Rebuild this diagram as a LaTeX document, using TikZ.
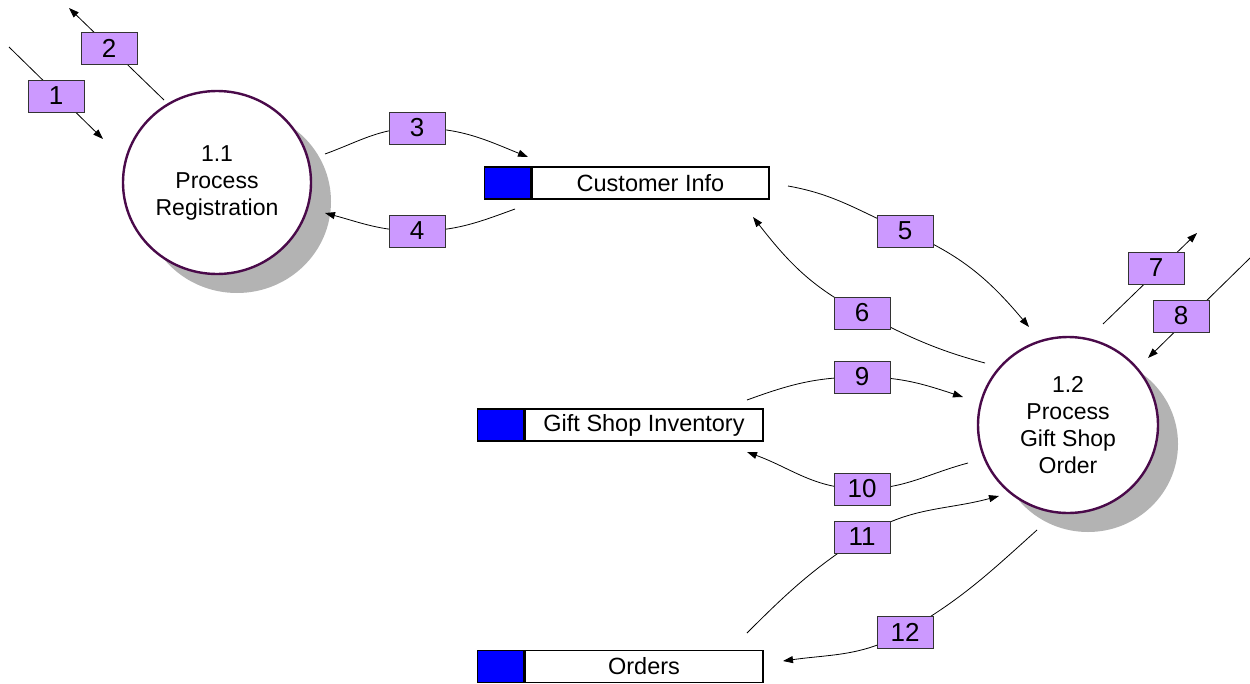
\documentclass[tikz,border=0pt]{standalone}
\usepackage{fontspec}
\setmainfont{Liberation Sans}
\usetikzlibrary{shapes.geometric,arrows.meta,shadows}

\definecolor{labelpurple}{HTML}{CC99FF}
\definecolor{storeblue}{HTML}{0000FF}
\definecolor{procborder}{HTML}{4A0A4A}
\definecolor{shadowgray}{HTML}{B3B3B3}
\definecolor{labelborder}{HTML}{333333}

\tikzset{
  process/.style={ellipse, draw=procborder, line width=2.4pt, fill=white,
    inner sep=0pt, align=center,
    font=\fontsize{23}{27}\selectfont,
    drop shadow={shadow xshift=20pt, shadow yshift=-19pt, fill=shadowgray, opacity=1}},
  storetext/.style={rectangle, draw=black, line width=1.4pt, fill=white,
    minimum height=32pt, inner sep=0pt, font=\fontsize{23.5}{27}\selectfont},
  storetag/.style={rectangle, draw=black, line width=1.4pt, fill=storeblue,
    minimum width=46pt, minimum height=32pt, inner sep=0pt},
  flowlabel/.style={rectangle, draw=labelborder, line width=0.9pt, fill=labelpurple,
    minimum width=56pt, minimum height=32pt, inner sep=0pt,
    font=\fontsize{26}{30}\selectfont},
  flow/.style={draw=black, line width=0.8pt},
  flowarrow/.style={flow, -{Triangle[length=10pt,width=7pt]}}
}

\begin{document}
\begin{tikzpicture}[x=1pt,y=1pt]
\useasboundingbox (0,0) rectangle (1250,-683);

% processes
\node[process, minimum width=188pt, minimum height=183pt] (reg) at (217,-182.5)
  {1.1\\Process\\Registration};
\node[process, minimum width=180pt, minimum height=176pt] (gso) at (1068,-425)
  {1.2\\Process\\Gift Shop\\Order};

% data stores
\node[storetext, minimum width=237pt] (ci) at (650.5,-183) {Customer Info};
\node[storetag, anchor=east] (citag) at (ci.west) {};
\node[storetext, minimum width=238pt] (gsi) at (644,-425) {Gift Shop Inventory};
\node[storetag, anchor=east] (gsitag) at (gsi.west) {};
\node[storetext, minimum width=238pt] (ord) at (644,-666.5) {Orders};
\node[storetag, anchor=east] (ordtag) at (ord.west) {};

% connector end points
\coordinate (s1) at (9,-47);      \coordinate (p1) at (56,-96);    \coordinate (e1) at (103,-139);
\coordinate (s2) at (164,-100);   \coordinate (p2) at (109,-48);   \coordinate (e2) at (69,-8);
\coordinate (s3) at (325,-154);   \coordinate (p3) at (417,-128);  \coordinate (e3) at (528,-157);
\coordinate (s4) at (515,-209);   \coordinate (p4) at (417,-231);  \coordinate (e4) at (325,-213);
\coordinate (s5) at (788,-186);   \coordinate (p5) at (905,-231);  \coordinate (e5) at (1029,-327);
\coordinate (s6) at (985,-363);   \coordinate (p6) at (862,-313);  \coordinate (e6) at (753,-217);
\coordinate (s7) at (1103,-324);  \coordinate (p7) at (1156,-268); \coordinate (e7) at (1197,-233);
\coordinate (s8) at (1250,-258);  \coordinate (p8) at (1181,-316); \coordinate (e8) at (1148,-358);
\coordinate (s9) at (747,-400);   \coordinate (p9) at (862,-377);  \coordinate (e9) at (963,-397);
\coordinate (s10) at (968,-463);  \coordinate (p10) at (862,-489); \coordinate (e10) at (747,-452);
\coordinate (s11) at (747,-633);  \coordinate (p11) at (862,-537); \coordinate (e11) at (999,-496);
\coordinate (s12) at (1037,-530); \coordinate (p12) at (905,-632); \coordinate (e12) at (783,-661);

% data flows
\draw[flowarrow] (s1) -- (e1);
\draw[flowarrow] (s2) -- (e2);
\draw[flowarrow] (s3) to[out=20,in=180] (p3) to[out=0,in=158] (e3);
\draw[flowarrow] (s4) to[out=200,in=0] (p4) to[out=180,in=-15] (e4);
\draw[flowarrow] (s5) to[out=-10,in=157] (p5) to[out=-23,in=130] (e5);
\draw[flowarrow] (s6) to[out=165,in=-27] (p6) to[out=153,in=-52] (e6);
\draw[flowarrow] (s7) -- (e7);
\draw[flowarrow] (s8) -- (e8);
\draw[flowarrow] (s9) to[out=20,in=180] (p9) to[out=0,in=162] (e9);
\draw[flowarrow] (s10) to[out=195,in=0] (p10) to[out=180,in=-20] (e10);
\draw[flowarrow] (s11) to[out=45,in=213] (p11) to[out=33,in=195] (e11);
\draw[flowarrow] (s12) to[out=222,in=30] (p12) to[out=210,in=8] (e12);

% flow labels
\node[flowlabel] (l1) at (p1) {1};
\node[flowlabel] (l2) at (p2) {2};
\node[flowlabel] (l3) at (p3) {3};
\node[flowlabel] (l4) at (p4) {4};
\node[flowlabel] (l5) at (p5) {5};
\node[flowlabel] (l6) at (p6) {6};
\node[flowlabel] (l7) at (p7) {7};
\node[flowlabel] (l8) at (p8) {8};
\node[flowlabel] (l9) at (p9) {9};
\node[flowlabel] (l10) at (p10) {10};
\node[flowlabel] (l11) at (p11) {11};
\node[flowlabel] (l12) at (p12) {12};
\end{tikzpicture}
\end{document}
